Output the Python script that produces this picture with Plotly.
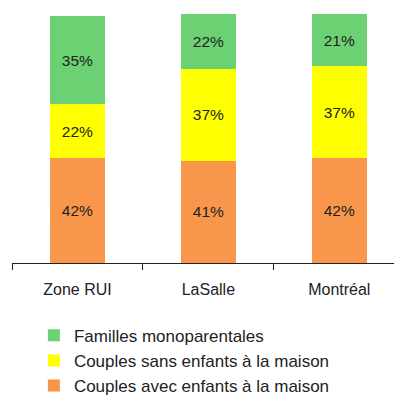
import plotly.graph_objects as go

categories = ["Zone RUI", "LaSalle", "Montréal"]
avec_enfants = [42, 41, 42]
sans_enfants = [22, 37, 37]
monoparentales = [35, 22, 21]
series_names = ["Couples avec enfants à la maison", "Couples sans enfants à la maison", "Familles monoparentales"]
colors = ["#F8964B", "#FFFF00", "#6CD172"]
FONT = "Liberation Sans, Arial"

fig = go.Figure()
for name, vals, col in zip(series_names, [avec_enfants, sans_enfants, monoparentales], colors):
    fig.add_trace(go.Bar(
        x=categories, y=vals, name=name, marker=dict(color=col, line=dict(width=0)),
        text=[f"{v}%" for v in vals], textposition="inside", insidetextanchor="middle",
        textfont=dict(family=FONT, size=15.5, color="#222222"),
        width=0.42, hoverinfo="skip", textangle=0,
    ))

fig.update_layout(
    width=402, height=401,
    margin=dict(l=4, r=0, t=6, b=145.5),
    barmode="stack",
    plot_bgcolor="white", paper_bgcolor="white",
    showlegend=True,
    legend=dict(traceorder="reversed", x=0.055, y=-0.22, xanchor="left", yanchor="top",
                font=dict(family=FONT, size=17, color="#222222"),
                itemwidth=30, bgcolor="rgba(0,0,0,0)"),
    uniformtext=dict(minsize=8, mode="show"),
)
fig.update_xaxes(type="category", range=[-0.5, 2.54], tickson="boundaries", ticks="outside",
                 ticklen=6, tickcolor="#222222", showline=True, linecolor="#222222", linewidth=1,
                 tickfont=dict(family=FONT, size=16, color="#222222"), ticklabelstandoff=12,
                 showgrid=False)
fig.update_yaxes(range=[0, 100], visible=False, showgrid=False)

fig.write_html("out.html")
